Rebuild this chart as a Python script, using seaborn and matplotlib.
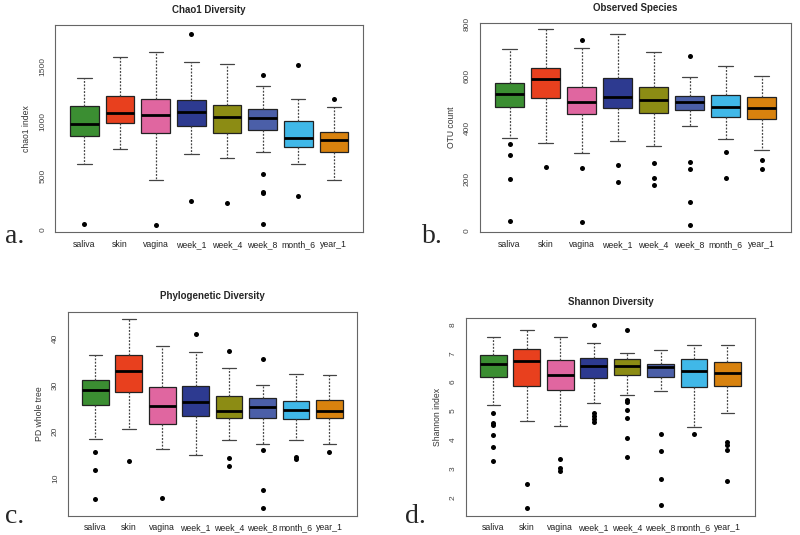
import numpy as np
import pandas as pd
import matplotlib
matplotlib.use("Agg")
import matplotlib.pyplot as plt
import seaborn as sns

groups = ['saliva', 'skin', 'vagina', 'week_1', 'week_4', 'week_8', 'month_6', 'year_1']
colors = ['#3b8e32', '#e8401e', '#e066a0', '#2d3a90', '#8c8c14', '#4b5fa8', '#40b8e8', '#d8820e']

# five-number summaries: whisker low, q1, median, q3, whisker high
chao1_lo = [605, 740, 462, 697, 657, 716, 605, 462]
chao1_q1 = [859, 979, 893, 954, 893, 917, 758, 716]
chao1_med = [975, 1070, 1055, 1083, 1034, 1031, 844, 826]
chao1_q3 = [1138, 1232, 1199, 1196, 1147, 1113, 997, 902]
chao1_hi = [1391, 1584, 1630, 1538, 1523, 1324, 1202, 1131]
chao1_out = [[52], [], [49], [1804, 266], [245], [1425, 511, 350, 340, 52], [1517, 315], [1199]]

obs_lo = [361, 339, 301, 346, 330, 405, 357, 312]
obs_q1 = [481, 515, 453, 474, 455, 466, 440, 434]
obs_med = [528, 587, 497, 517, 506, 498, 480, 475]
obs_q3 = [573, 631, 556, 592, 555, 520, 524, 517]
obs_hi = [702, 781, 708, 761, 692, 597, 637, 600]
obs_out = [[337, 295, 201, 40], [249], [737, 245, 36], [253, 190], [262, 204, 177],
           [675, 267, 239, 110, 23], [305, 204], [274, 239]]

pd_lo = [18.4, 20.6, 16.3, 15.0, 18.2, 17.3, 18.2, 17.4]
pd_q1 = [25.8, 28.6, 21.6, 23.3, 22.9, 22.9, 22.8, 23.0]
pd_med = [29.0, 33.0, 25.6, 26.3, 24.5, 25.3, 24.7, 24.5]
pd_q3 = [31.2, 36.4, 29.6, 29.9, 27.7, 27.3, 26.7, 26.9]
pd_hi = [36.5, 44.1, 38.4, 37.2, 33.6, 30.0, 32.3, 32.2]
pd_out = [[15.6, 11.9, 5.6], [13.8], [5.9], [40.9], [37.3, 14.4, 12.6],
          [35.5, 16.1, 7.5, 3.7], [14.6, 14.1], [15.6]]

sh_lo = [5.21, 4.64, 4.49, 5.28, 5.54, 5.69, 4.44, 4.92]
sh_q1 = [6.17, 5.88, 5.73, 6.15, 6.26, 6.17, 5.84, 5.86]
sh_med = [6.63, 6.74, 6.25, 6.54, 6.55, 6.53, 6.37, 6.33]
sh_q3 = [6.93, 7.14, 6.77, 6.83, 6.81, 6.63, 6.79, 6.70]
sh_hi = [7.57, 7.80, 7.58, 7.36, 7.00, 7.12, 7.27, 7.27]
sh_out = [[4.93, 4.59, 4.50, 4.15, 3.74, 3.25], [2.47, 1.63], [3.33, 3.00, 2.90],
          [7.98, 4.91, 4.81, 4.73, 4.62], [7.80, 5.37, 5.30, 5.02, 4.74, 4.07, 3.39],
          [4.19, 3.60, 2.65, 1.72], [4.21], [3.93, 3.81, 3.65, 2.55]]


def summary_frame(lo, q1, med, q3, hi):
    # repeat the quartile values so the computed quartiles land on them exactly
    rows = []
    for g, a, b, c, d, e in zip(groups, lo, q1, med, q3, hi):
        for v in [a] + [b] * 10 + [c] * 10 + [d] * 10 + [e]:
            rows.append({'group': g, 'value': v})
    return pd.DataFrame(rows)


def outlier_frame(out):
    rows = [{'group': g, 'value': v} for g, vals in zip(groups, out) for v in vals]
    return pd.DataFrame(rows, columns=['group', 'value'])


sns.set_style("white")
plt.rcParams['font.family'] = ['Liberation Sans', 'DejaVu Sans']

fig = plt.figure(figsize=(8, 5.35), dpi=100)

panels = [
    ([0.069, 0.566, 0.385, 0.387], 'Chao1 Diversity', 'chao1 index',
     (chao1_lo, chao1_q1, chao1_med, chao1_q3, chao1_hi), chao1_out,
     [0, 500, 1000, 1500], (-21, 1881), 'a.', (0.006, 0.535)),
    ([0.600, 0.566, 0.389, 0.391], 'Observed Species', 'OTU count',
     (obs_lo, obs_q1, obs_med, obs_q3, obs_hi), obs_out,
     [0, 200, 400, 600, 800], (-5, 804), 'b.', (0.528, 0.535)),
    ([0.085, 0.036, 0.361, 0.381], 'Phylogenetic Diversity', 'PD whole tree',
     (pd_lo, pd_q1, pd_med, pd_q3, pd_hi), pd_out,
     [10, 20, 30, 40], (2.0, 45.7), 'c.', (0.006, 0.012)),
    ([0.5825, 0.036, 0.361, 0.370], 'Shannon Diversity', 'Shannon index',
     (sh_lo, sh_q1, sh_med, sh_q3, sh_hi), sh_out,
     [2, 3, 4, 5, 6, 7, 8], (1.36, 8.23), 'd.', (0.506, 0.012)),
]

for rect, title, ylabel, stats, out, yticks, ylim, letter, lpos in panels:
    ax = fig.add_axes(rect)
    df = summary_frame(*stats)
    sns.boxplot(data=df, x='group', y='value', hue='group', order=groups,
                palette=colors, saturation=1, legend=False, ax=ax, width=0.8,
                whis=(0, 100), showfliers=False, linewidth=0.9, linecolor='#222222',
                whiskerprops={'linestyle': (0, (1.5, 1.2)), 'color': '#444444'},
                capprops={'color': '#444444'},
                medianprops={'color': 'black', 'linewidth': 2.0})
    # caps narrower than the boxes, as in R
    for line in ax.lines:
        xd = line.get_xdata()
        if len(xd) == 2 and xd[0] != xd[1]:
            mid = (xd[0] + xd[1]) / 2
            half = xd[1] - xd[0]
            if abs(half) < 0.45 and line.get_linewidth() < 1.5:
                line.set_xdata([mid - 0.2, mid + 0.2])
    od = outlier_frame(out)
    sns.stripplot(data=od, x='group', y='value', order=groups, jitter=False,
                  color='black', size=3.6, ax=ax)
    ax.set_xlim(-0.82, 7.82)
    ax.set_ylim(*ylim)
    ax.set_yticks(yticks)
    ax.set_yticklabels([str(t) for t in yticks], rotation=90, va='center',
                       fontsize=6, color='#444444')
    ax.set_xticks(range(len(groups)))
    ax.set_xticklabels(groups, fontsize=6.3, color='#222222')
    ax.tick_params(axis='both', length=2.5, width=0.6, color='#555555', pad=3)
    ax.tick_params(axis='y', pad=4)
    ax.set_xlabel('')
    ax.set_ylabel(ylabel, fontsize=6.2, color='#333333', labelpad=6)
    ax.set_title(title, fontsize=7, fontweight='bold', pad=9)
    for s in ax.spines.values():
        s.set_color('#666666')
        s.set_linewidth(0.8)
    fig.text(lpos[0], lpos[1], letter, fontsize=20, va='bottom',
             family=['Liberation Serif', 'DejaVu Serif'])

fig.savefig('out.png', dpi=100)
